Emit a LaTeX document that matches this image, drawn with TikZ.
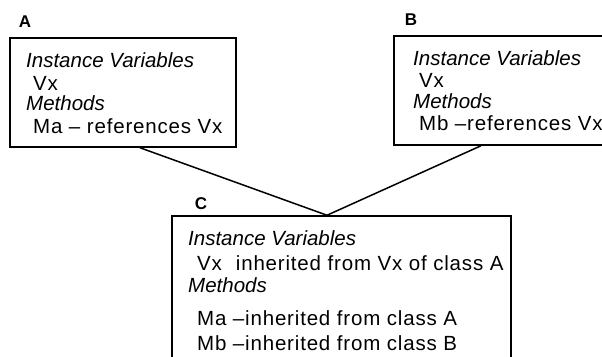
\documentclass[tikz,border=0pt]{standalone}
\usepackage{fontspec}
\setmainfont{Liberation Sans}

\begin{document}
\begin{tikzpicture}[x=1pt,y=-1pt,
    classbox/.style={draw, line width=1.5pt, inner sep=0pt},
    txt/.style={anchor=base west, inner sep=0pt, font=\fontsize{20.5}{24}\selectfont\addfontfeature{LetterSpace=4}},
    hd/.style={txt, font=\fontsize{20.5}{24}\selectfont\itshape},
    lbl/.style={inner sep=0pt, font=\fontsize{17}{19}\selectfont\bfseries}]
    \clip (0,0) rectangle (602,356);

    % Class A
    \node[classbox, minimum width=226pt, minimum height=109pt] (boxA) at (123,92.5) {};
    \node[lbl] (labA) at (25,22) {A};
    \node[hd] (ivA) at (26,67) {Instance Variables};
    \node[txt] (vxA) at (33,90) {Vx};
    \node[hd] (mA) at (26,110) {Methods};
    \node[txt] (maA) at (33,133) {Ma -- references Vx};

    % Class B
    \node[classbox, minimum width=226pt, minimum height=109pt] (boxB) at (507,90.5) {};
    \node[lbl] (labB) at (411,20) {B};
    \node[hd] (ivB) at (413,65) {Instance Variables};
    \node[txt] (vxB) at (419,87) {Vx};
    \node[hd] (mB) at (413,108) {Methods};
    \node[txt] (mbB) at (419,130) {Mb --references Vx};

    % Class C
    \node[classbox, minimum width=339pt, minimum height=170pt] (boxC) at (341.5,301) {};
    \node[lbl] (labC) at (201,203.5) {C};
    \node[hd] (ivC) at (188,245) {Instance Variables};
    \node[txt] (vxC) at (197,270) {Vx\hspace{14pt}inherited from Vx of class A};
    \node[hd] (mC) at (188,292) {Methods};
    \node[txt] (maC) at (197,325) {Ma --inherited from class A};
    \node[txt] (mbC) at (197,350) {Mb --inherited from class B};

    % Inheritance lines
    \coordinate (join) at ([xshift=-14.5pt]boxC.north);
    \draw[line width=1.5pt] ([xshift=17pt]boxA.south) -- (join);
    \draw[line width=1.5pt] ([xshift=-26pt]boxB.south) -- (join);
\end{tikzpicture}
\end{document}
